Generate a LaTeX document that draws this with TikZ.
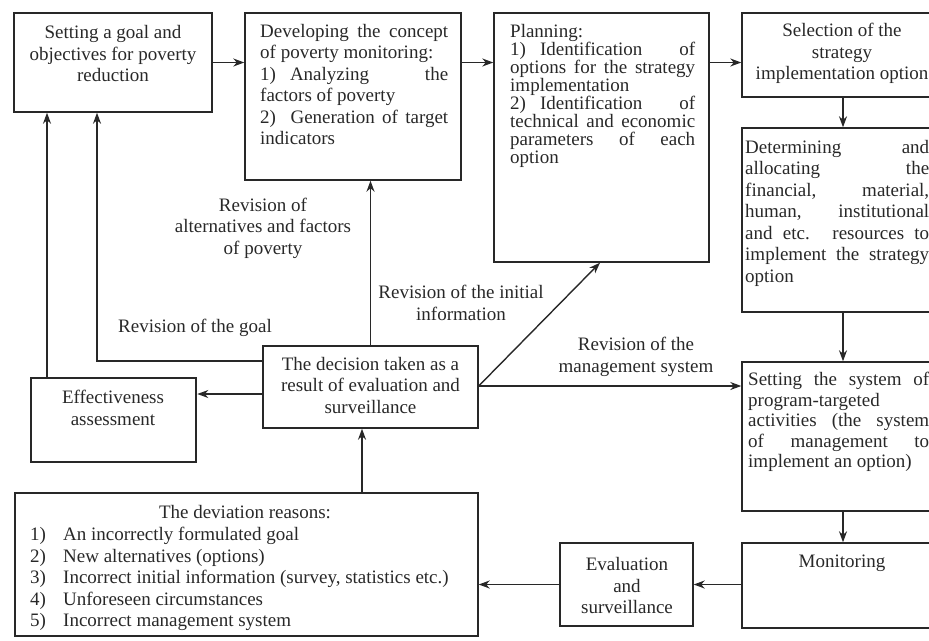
\documentclass[tikz,border=0pt]{standalone}
\usepackage{fontspec}
\setmainfont{Liberation Serif}
\usetikzlibrary{arrows.meta}
\definecolor{ink}{RGB}{40,40,40}
\begin{document}
\begin{tikzpicture}[x=1pt,y=-1pt,
  box/.style={draw=ink, line width=1.4pt, inner sep=0pt, rectangle},
  txt/.style={text=ink, font=\fontsize{19}{21.5}\selectfont, inner sep=0pt},
  arr/.style={draw=ink, line width=1.4pt, -{Stealth[length=11pt,width=8pt,inset=3.5pt]}},
  ln/.style={draw=ink, line width=1.4pt}]
\useasboundingbox (0,0) rectangle (929,640);
\clip (0,0) rectangle (929,640);
% boxes
\node[box, minimum width=198pt, minimum height=99pt] (b1) at (113,62.5) {};
\node[box, minimum width=216pt, minimum height=167pt] (b2) at (353,96.5) {};
\node[box, minimum width=215pt, minimum height=249pt] (b3) at (601.5,137.5) {};
\node[box, minimum width=202pt, minimum height=84pt] (b4) at (843,55) {};
\node[box, minimum width=202pt, minimum height=184pt] (b5) at (843,220) {};
\node[box, minimum width=202pt, minimum height=149pt] (b6) at (843,436.5) {};
\node[box, minimum width=202pt, minimum height=85pt] (b7) at (843,585.5) {};
\node[box, minimum width=133pt, minimum height=83pt] (b8) at (626.5,584.5) {};
\node[box, minimum width=463pt, minimum height=143pt] (dev) at (246.5,564.5) {};
\node[box, minimum width=215pt, minimum height=82pt] (dec) at (370.5,387) {};
\node[box, line width=2.6pt, minimum width=165pt, minimum height=84pt] (eff) at (113.5,420) {};
% texts
\node[txt, align=center] (t1) at (113,53.5) {Setting a goal and\\objectives for poverty\\reduction};
\node[txt, text width=188pt, align=justify, anchor=north west] (t2) at (260,24) {Developing the concept\linebreak of poverty monitoring:\\1)\hspace{14pt}Analyzing the\linebreak factors of poverty\\2)~~Generation of target\linebreak indicators};
\node[txt, text width=185pt, align=justify, anchor=north west, font=\fontsize{19}{18}\selectfont] (t3) at (510,24) {Planning:\\1)\hspace{14pt}Identification of\linebreak options for the strategy\linebreak implementation\\2)\hspace{14pt}Identification of\linebreak technical and economic\linebreak parameters of each\linebreak option};
\node[txt, align=center] (t4) at (842,53.5) {Selection of the\\strategy\\implementation option};
\node[txt, text width=184pt, align=justify, anchor=north west] (t5) at (745,140) {Determining and\linebreak allocating the\linebreak financial, material,\linebreak human, institutional\linebreak and etc. resources to\linebreak implement the strategy\linebreak option};
\node[txt, text width=181pt, align=justify, anchor=north west, font=\fontsize{19}{20.5}\selectfont] (t6) at (748,372) {Setting the system of\linebreak program-targeted\\activities (the system\linebreak of management to\linebreak implement an option)};
\node[txt] (t7) at (842,563) {Monitoring};
\node[txt, align=center] (t8) at (627,585.5) {Evaluation\\and\\surveillance};
\node[txt, align=center] (tdec) at (370.5,385) {The decision taken as a\\result of evaluation and\\surveillance};
\node[txt, align=center] (teff) at (113,408) {Effectiveness\\assessment};
\node[txt] (tdev) at (245,512) {The deviation reasons:};
\node[txt, align=left, anchor=north west] (tdevl) at (30,527) {\makebox[33pt][l]{1)}An incorrectly formulated goal\\\makebox[33pt][l]{2)}New alternatives (options)\\\makebox[33pt][l]{3)}Incorrect initial information (survey, statistics etc.)\\\makebox[33pt][l]{4)}Unforeseen circumstances\\\makebox[33pt][l]{5)}Incorrect management system};
% labels
\node[txt, align=center] (lalt) at (263,228) {Revision of\\alternatives and factors\\of poverty};
\node[txt] (lgoal) at (195,328) {Revision of the goal};
\node[txt, align=center] (linit) at (461,303) {Revision of the initial\\information};
\node[txt, align=center] (lmgmt) at (636,357) {Revision of the\\management system};
% helper coordinates
\coordinate (xA) at (47,0);
\coordinate (xB) at (97,0);
\coordinate (yB) at (0,361);
\coordinate (yC) at (0,394);
\coordinate (yD) at (0,386);
\coordinate (xD) at (600,0);
\coordinate (xE) at (362,0);
% connectors
\draw[arr] (b1.east) -- (b1.east -| b2.west);
\draw[arr] (b1.east -| b2.east) -- (b1.east -| b3.west);
\draw[arr] (b1.east -| b3.east) -- (b1.east -| b4.west);
\draw[arr] (b4.south) -- (b5.north);
\draw[arr] (b5.south) -- (b6.north);
\draw[arr] (b6.south) -- (b7.north);
\draw[arr] (b7.west |- b8.east) -- (b8.east);
\draw[arr] (b8.west) -- (b8.west -| dev.east);
\draw[arr] (dev.north -| xE) -- (dec.south -| xE);
\draw[arr] (dec.west |- yC) -- (eff.east |- yC);
\draw[arr] (eff.north -| xA) -- (b1.south -| xA);
\draw[arr] (dec.west |- yB) -- (xB |- yB) -- (b1.south -| xB);
\draw[arr] (dec.north) -- (dec.north |- b2.south);
\draw[arr] (dec.east |- yD) -- (b3.south -| xD);
\draw[arr] (dec.east |- yD) -- (b6.west |- yD);
\end{tikzpicture}
\end{document}
